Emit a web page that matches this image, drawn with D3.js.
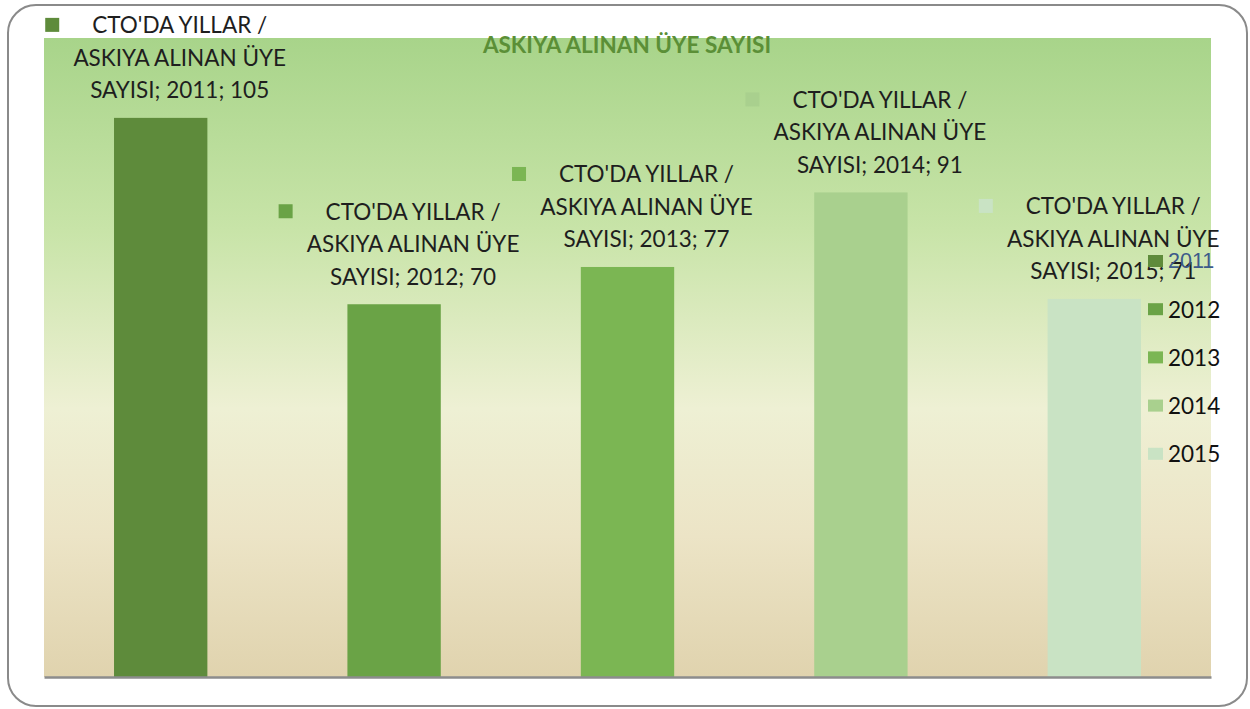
<!DOCTYPE html>
<html>
<head>
<meta charset="utf-8">
<script src="https://cdn.jsdelivr.net/npm/d3@7"></script>
<style>
  html, body { margin: 0; padding: 0; background: #ffffff; }
  svg { display: block; }
</style>
</head>
<body>
<svg id="chart" width="1250" height="709"></svg>
<script>
const categories = ["2011", "2012", "2013", "2014", "2015"];
const values = [105, 70, 77, 91, 71];
const seriesName = "CTO'DA YILLAR / ASKIYA ALINAN ÜYE SAYISI";
const labelLines = ["CTO'DA YILLAR /", "ASKIYA ALINAN ÜYE"];
const colors = ["#5e8b3b", "#6aa346", "#7bb653", "#a9d08e", "#c9e3c4"];
const title = "ASKIYA ALINAN ÜYE SAYISI";
const yDomainMax = 120;

const svg = d3.select("#chart");
const plot = { left: 44, right: 1211, top: 38, bottom: 677 };
const FONT = "Lato, 'Open Sans', sans-serif";

// Outer frame
svg.append("rect")
  .attr("x", 8).attr("y", 5).attr("width", 1239).attr("height", 701)
  .attr("rx", 28).attr("ry", 28)
  .attr("fill", "#ffffff").attr("stroke", "#8a8a8a").attr("stroke-width", 2);

// Background gradient
const defs = svg.append("defs");
const grad = defs.append("linearGradient").attr("id", "bg")
  .attr("x1", 0).attr("y1", 0).attr("x2", 0).attr("y2", 1);
[["0%", "#a8d48a"], ["30%", "#c8e4a8"], ["58%", "#eef0d4"], ["78%", "#ece4c6"], ["100%", "#e0d3ae"]]
  .forEach(([o, c]) => grad.append("stop").attr("offset", o).attr("stop-color", c));

svg.append("rect")
  .attr("x", plot.left).attr("y", plot.top)
  .attr("width", plot.right - plot.left).attr("height", plot.bottom - plot.top)
  .attr("fill", "url(#bg)");

const x = d3.scaleBand().domain(categories).range([plot.left, plot.right])
  .paddingInner(0.6).paddingOuter(0.3);
const y = d3.scaleLinear().domain([0, yDomainMax]).range([plot.bottom, plot.top]);

// Bars
svg.append("g").selectAll("rect").data(categories).join("rect")
  .attr("x", d => x(d))
  .attr("y", (d, i) => y(values[i]))
  .attr("width", x.bandwidth())
  .attr("height", (d, i) => y(0) - y(values[i]))
  .attr("fill", (d, i) => colors[i]);

// Axis baseline
const xAxis = svg.append("g").attr("transform", `translate(0,${plot.bottom})`)
  .call(d3.axisBottom(x).tickSize(0).tickFormat(""));
xAxis.select(".domain").attr("stroke", "#8c8c8c").attr("stroke-width", 2.5);

// Title
svg.append("text")
  .attr("x", 627).attr("y", 44)
  .attr("text-anchor", "middle").attr("dominant-baseline", "central")
  .attr("font-family", FONT).attr("font-weight", "bold").attr("font-size", 22.5)
  .attr("fill", "#5b8f37")
  .text(title);

// Data labels
const lineH = 32.5;
categories.forEach((c, i) => {
  const cx = x(c) + x.bandwidth() / 2 + 19;
  const top = y(values[i]) - 93;
  const lines = [labelLines[0], labelLines[1], `SAYISI; ${c}; ${values[i]}`];
  const g = svg.append("g");
  let firstLen = 0;
  lines.forEach((t, k) => {
    const tx = g.append("text")
      .attr("x", cx).attr("y", top + k * lineH)
      .attr("text-anchor", "middle").attr("dominant-baseline", "central")
      .attr("font-family", FONT).attr("font-size", 22.5).attr("fill", "#1e1e1e")
      .text(t);
    if (k === 0) firstLen = tx.node().getComputedTextLength();
  });
  g.append("rect")
    .attr("x", cx - firstLen / 2 - 47).attr("y", top - 7)
    .attr("width", 14).attr("height", 14)
    .attr("fill", colors[i]);
});

// Legend
const lg = svg.append("g");
categories.forEach((c, i) => {
  const ly = 261 + i * 48.2;
  lg.append("rect").attr("x", 1148).attr("y", ly - 6).attr("width", 15).attr("height", 12)
    .attr("fill", colors[i]);
  lg.append("text").attr("x", 1168).attr("y", ly)
    .attr("dominant-baseline", "central")
    .attr("font-family", i === 0 ? "'Liberation Sans', sans-serif" : FONT)
    .attr("font-weight", i === 0 ? 300 : 400)
    .attr("font-size", i === 0 ? 21.5 : 22.5)
    .attr("fill", i === 0 ? "#3d5a8a" : "#111111")
    .text(c);
});
</script>
</body>
</html>
